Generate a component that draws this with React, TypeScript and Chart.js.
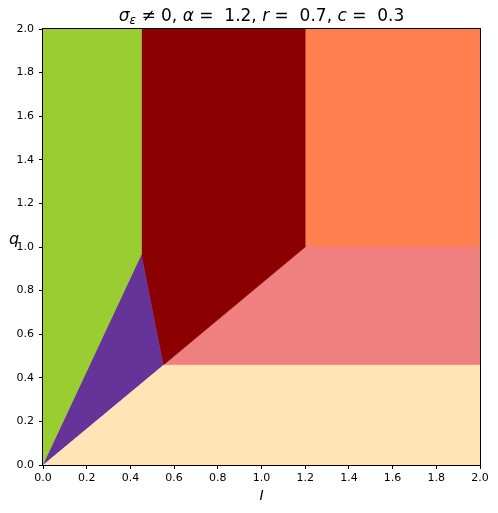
import React, { useEffect, useRef } from "react";
import { Chart, registerables } from "chart.js";

Chart.register(...registerables);

// Region boundaries (data coordinates, I on x, q on y)
const xTicks = [0, 0.2, 0.4, 0.6, 0.8, 1.0, 1.2, 1.4, 1.6, 1.8, 2.0];
const yTicks = [0, 0.2, 0.4, 0.6, 0.8, 1.0, 1.2, 1.4, 1.6, 1.8, 2.0];

const beigeRegion = [
  { x: 0, y: 0 },
  { x: 2, y: 0 },
  { x: 2, y: 0.458 },
  { x: 0.55, y: 0.458 },
];
const purpleRegion = [
  { x: 0, y: 0 },
  { x: 0.55, y: 0.458 },
  { x: 0.45, y: 0.963 },
];
const greenRegion = [
  { x: 0, y: 0 },
  { x: 0.45, y: 0.963 },
  { x: 0.45, y: 2 },
  { x: 0, y: 2 },
];
const darkRedRegion = [
  { x: 0.45, y: 0.963 },
  { x: 0.55, y: 0.458 },
  { x: 1.2, y: 1.0 },
  { x: 1.2, y: 2 },
  { x: 0.45, y: 2 },
];
const lightCoralRegion = [
  { x: 0.55, y: 0.458 },
  { x: 2, y: 0.458 },
  { x: 2, y: 1.0 },
  { x: 1.2, y: 1.0 },
];
const coralRegion = [
  { x: 1.2, y: 1.0 },
  { x: 2, y: 1.0 },
  { x: 2, y: 2 },
  { x: 1.2, y: 2 },
];
const leftEdgeLine = [
  { x: 0.004, y: 0.02 },
  { x: 0.004, y: 2 },
];

const regions = [
  { label: "beige", data: beigeRegion, color: "#FFE4B5" },
  { label: "purple", data: purpleRegion, color: "#663399" },
  { label: "green", data: greenRegion, color: "#9ACD32" },
  { label: "darkred", data: darkRedRegion, color: "#8B0000" },
  { label: "lightcoral", data: lightCoralRegion, color: "#F08080" },
  { label: "coral", data: coralRegion, color: "#FF7F50" },
];

const FONT = "'DejaVu Sans', sans-serif";

const decorPlugin = {
  id: "decor",
  afterDraw(chart: any) {
    const { ctx, chartArea } = chart;
    const { left, right, top, bottom } = chartArea;
    ctx.save();
    // frame
    ctx.strokeStyle = "#000";
    ctx.lineWidth = 1;
    ctx.strokeRect(Math.round(left) - 0.5, Math.round(top) - 0.5, Math.round(right - left) + 1, Math.round(bottom - top) + 1);

    // title with math parts
    const size = 17;
    const parts: { t: string; italic?: boolean; sub?: boolean }[] = [
      { t: "σ", italic: true },
      { t: "ε", italic: true, sub: true },
      { t: " ≠ 0, " },
      { t: "α", italic: true },
      { t: " =  1.2, " },
      { t: "r", italic: true },
      { t: " =  0.7, " },
      { t: "c", italic: true },
      { t: " =  0.3" },
    ];
    const fontFor = (p: any) =>
      `${p.italic ? "italic " : ""}${p.sub ? Math.round(size * 0.7) : size}px ${FONT}`;
    let total = 0;
    const widths = parts.map((p) => {
      ctx.font = fontFor(p);
      const w = ctx.measureText(p.t).width;
      total += w;
      return w;
    });
    let x = (left + right) / 2 - total / 2;
    const baseY = 21;
    ctx.fillStyle = "#000";
    ctx.textAlign = "left";
    ctx.textBaseline = "alphabetic";
    parts.forEach((p, i) => {
      ctx.font = fontFor(p);
      ctx.fillText(p.t, x, p.sub ? baseY + 3 : baseY);
      x += widths[i];
    });

    // axis labels
    ctx.font = `italic 16px ${FONT}`;
    ctx.textAlign = "center";
    ctx.fillText("q", 14, 244);
    ctx.font = `italic 14px ${FONT}`;
    ctx.fillText("I", (left + right) / 2, 500);
    ctx.restore();
  },
};

export default function App() {
  const ref = useRef<HTMLCanvasElement | null>(null);
  useEffect(() => {
    document.body.style.margin = "0";
    const canvas = ref.current;
    if (!canvas) return;
    const datasets: any[] = regions.map((r) => ({
      label: r.label,
      data: r.data,
      showLine: true,
      fill: "shape",
      backgroundColor: r.color,
      borderColor: r.color,
      borderWidth: 0.6,
      pointRadius: 0,
      tension: 0,
    }));
    datasets.push({
      label: "edge",
      data: leftEdgeLine,
      showLine: true,
      fill: false,
      borderColor: "#E6D200",
      borderWidth: 1,
      pointRadius: 0,
    });
    const chart = new Chart(canvas, {
      type: "scatter",
      data: { datasets },
      options: {
        animation: false,
        responsive: false,
        maintainAspectRatio: false,
        layout: { padding: { top: 29, right: 18, left: 0, bottom: 0 } },
        plugins: {
          legend: { display: false },
          tooltip: { enabled: false },
          title: { display: false },
        },
        scales: {
          x: {
            type: "linear",
            min: 0,
            max: 2,
            afterFit: (s: any) => {
              s.height = 48;
            },
            afterBuildTicks: (s: any) => {
              s.ticks = xTicks.map((v) => ({ value: v }));
            },
            ticks: {
              color: "#000",
              font: { family: FONT, size: 11 },
              padding: 3,
              maxRotation: 0,
              autoSkip: false,
              callback: (v: any) => Number(v).toFixed(1),
            },
            grid: {
              drawOnChartArea: false,
              drawTicks: true,
              tickLength: 4,
              color: "#000",
            },
            border: { color: "#000", width: 1 },
          },
          y: {
            type: "linear",
            min: 0,
            max: 2,
            afterFit: (s: any) => {
              s.width = 43;
            },
            afterBuildTicks: (s: any) => {
              s.ticks = yTicks.map((v) => ({ value: v }));
            },
            ticks: {
              color: "#000",
              font: { family: FONT, size: 11 },
              padding: 5,
              autoSkip: false,
              callback: (v: any) => Number(v).toFixed(1),
            },
            grid: {
              drawOnChartArea: false,
              drawTicks: true,
              tickLength: 4,
              color: "#000",
            },
            border: { color: "#000", width: 1 },
          },
        },
      },
      plugins: [decorPlugin],
    } as any);
    return () => chart.destroy();
  }, []);
  return (
    <div style={{ position: "absolute", left: 0, top: 0, width: 498, height: 513, background: "#fff" }}>
      <canvas ref={ref} width={498} height={513} style={{ width: 498, height: 513, display: "block" }} />
    </div>
  );
}
